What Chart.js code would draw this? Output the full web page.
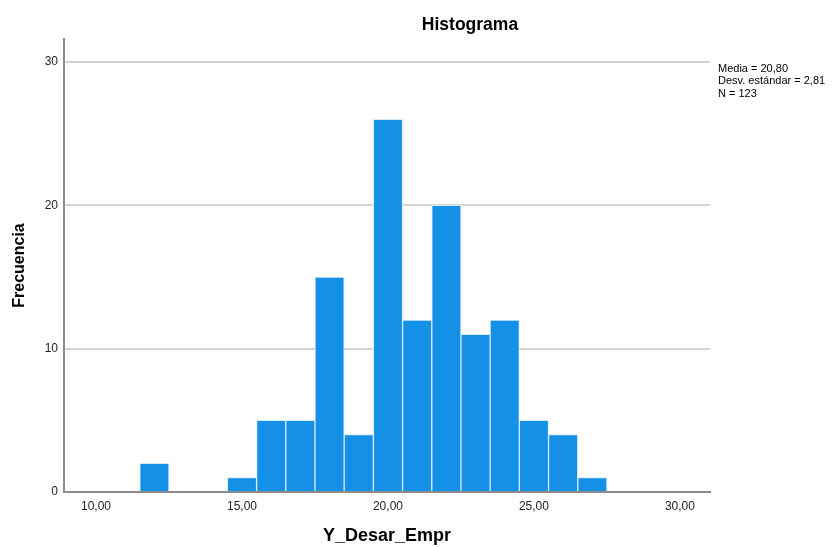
<!DOCTYPE html>
<html>
<head>
<meta charset="utf-8">
<script src="https://cdn.jsdelivr.net/npm/chart.js@4"></script>
<style>
html,body{margin:0;padding:0;background:#fff;}
#wrap{width:838px;height:547px;position:relative;}
</style>
</head>
<body>
<div id="wrap"><canvas id="c" width="838" height="547"></canvas></div>
<script>
const binCenters = [12, 13, 14, 15, 16, 17, 18, 19, 20, 21, 22, 23, 24, 25, 26, 27];
const frequencies = [2, 0, 0, 1, 5, 5, 15, 4, 26, 12, 20, 11, 12, 5, 4, 1];
const xTicks = [10, 15, 20, 25, 30];
const yTicks = [0, 10, 20, 30];
const statsLines = ['Media = 20,80', 'Desv. estándar = 2,81', 'N = 123'];
const chartTitle = 'Histograma';

const FONT = '"Liberation Sans", Arial, sans-serif';

const overlay = {
  id: 'overlay',
  afterDraw(chart) {
    const ctx = chart.ctx;
    ctx.save();
    ctx.fillStyle = '#000';
    ctx.font = 'bold 17.5px ' + FONT;
    ctx.textAlign = 'center';
    ctx.textBaseline = 'middle';
    ctx.fillText(chartTitle, 470, 25);
    ctx.font = '11px ' + FONT;
    ctx.textAlign = 'left';
    statsLines.forEach((t, i) => ctx.fillText(t, 718, 68.5 + i * 12.5));
    ctx.restore();
  }
};

new Chart(document.getElementById('c'), {
  type: 'bar',
  data: {
    datasets: [{
      data: binCenters.map((x, i) => ({x: x, y: frequencies[i]})),
      backgroundColor: '#1490e6',
      borderColor: '#d6ebfa',
      borderWidth: 1,
      borderSkipped: 'bottom',
      barPercentage: 1,
      categoryPercentage: 1
    }]
  },
  options: {
    responsive: false,
    animation: false,
    layout: {padding: {top: 39, right: 128, left: 0, bottom: 0}},
    plugins: {legend: {display: false}, tooltip: {enabled: false}, title: {display: false}},
    scales: {
      x: {
        type: 'linear',
        offset: false,
        min: 8.904,
        max: 31.03,
        afterBuildTicks: s => { s.ticks = xTicks.map(v => ({value: v})); },
        afterFit: s => { s.height = 55; },
        grid: {display: false, drawTicks: false, offset: false},
        border: {display: true, color: '#8c8c8c', width: 2},
        ticks: {
          color: '#222',
          font: {family: FONT, size: 12},
          padding: 7,
          maxRotation: 0,
          callback: v => v.toFixed(2).replace('.', ',')
        },
        title: {
          display: true,
          text: 'Y_Desar_Empr',
          color: '#000',
          font: {family: FONT, size: 18, weight: 'bold'},
          padding: {top: 12, bottom: 0}
        }
      },
      y: {
        min: 0,
        max: 31.6,
        afterBuildTicks: s => { s.ticks = yTicks.map(v => ({value: v})); },
        afterFit: s => { s.width = 64; },
        grid: {
          drawTicks: false,
          color: ctx => ctx.tick && ctx.tick.value === 0 ? 'rgba(0,0,0,0)' : '#d4d4d4',
          lineWidth: 2
        },
        border: {display: true, color: '#8c8c8c', width: 2},
        ticks: {
          color: '#222',
          font: {family: FONT, size: 12},
          padding: 6
        },
        title: {
          display: true,
          text: 'Frecuencia',
          color: '#000',
          font: {family: FONT, size: 16, weight: 'bold'},
          padding: {top: 10, bottom: 4}
        }
      }
    }
  },
  plugins: [overlay]
});
</script>
</body>
</html>
